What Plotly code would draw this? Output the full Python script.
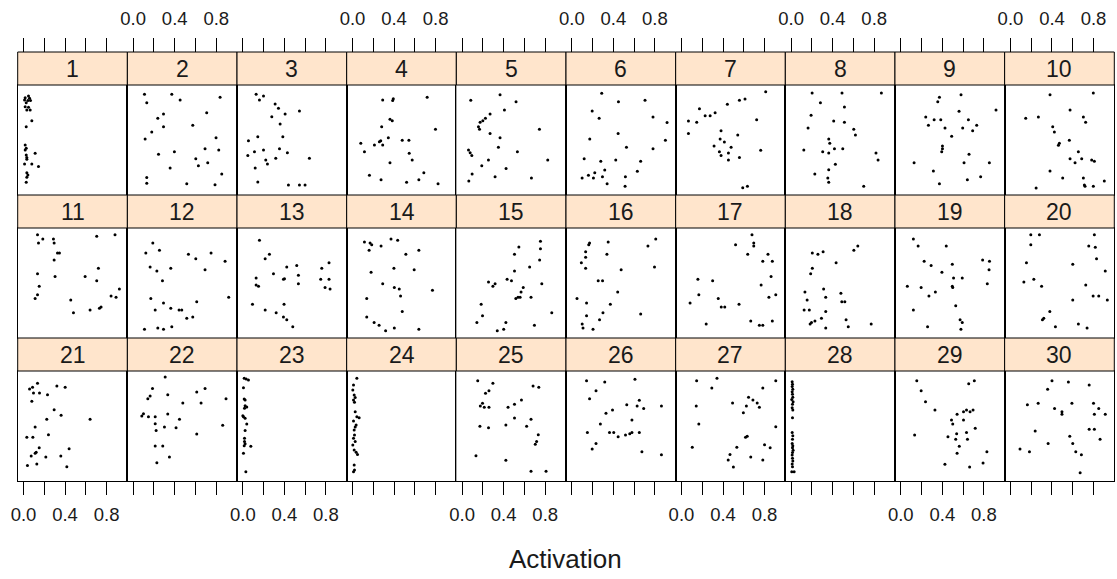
import plotly.graph_objects as go

# ---------------- data ----------------
panel_labels = [str(i) for i in range(1, 31)]
tick_vals = [0.0, 0.2, 0.4, 0.6, 0.8]
tick_text = ["0.0", "", "0.4", "", "0.8"]
x_title = "Activation"

act_01 = [0.048,0.016,0.058,0.010,0.042,0.067,0.026,0.016,0.048,0.032,0.064,0.080,0.026,0.016,0.026,0.016,0.112,0.026,0.032,0.032,0.010,0.080,0.144,0.032,0.042,0.032,0.026]
pos_01 = [0.900,0.885,0.879,0.864,0.858,0.858,0.839,0.803,0.797,0.773,0.773,0.676,0.621,0.455,0.424,0.409,0.379,0.364,0.342,0.324,0.282,0.282,0.258,0.203,0.182,0.161,0.115]
act_02 = [0.109,0.131,0.372,0.452,0.837,0.708,0.292,0.237,0.292,0.574,0.179,0.115,0.798,0.244,0.397,0.692,0.824,0.603,0.628,0.718,0.356,0.853,0.131,0.131,0.516,0.788]
pos_02 = [0.915,0.839,0.915,0.864,0.888,0.748,0.736,0.697,0.621,0.633,0.573,0.509,0.521,0.370,0.394,0.421,0.409,0.330,0.267,0.294,0.245,0.191,0.158,0.106,0.103,0.094]
act_03 = [0.128,0.160,0.199,0.311,0.343,0.407,0.545,0.279,0.359,0.385,0.144,0.054,0.353,0.429,0.199,0.112,0.048,0.221,0.317,0.237,0.641,0.119,0.144,0.439,0.545,0.599]
pos_03 = [0.915,0.864,0.900,0.827,0.788,0.736,0.764,0.712,0.645,0.530,0.530,0.494,0.421,0.385,0.409,0.394,0.358,0.318,0.333,0.282,0.333,0.245,0.118,0.091,0.091,0.091]
act_04 = [0.291,0.387,0.393,0.719,0.361,0.383,0.281,0.799,0.345,0.272,0.259,0.291,0.479,0.543,0.080,0.211,0.115,0.546,0.575,0.361,0.163,0.275,0.521,0.639,0.687,0.824]
pos_04 = [0.864,0.858,0.876,0.888,0.688,0.676,0.621,0.597,0.521,0.494,0.485,0.455,0.497,0.497,0.470,0.455,0.394,0.379,0.318,0.294,0.179,0.139,0.115,0.139,0.203,0.103]
act_05 = [0.083,0.365,0.519,0.407,0.269,0.224,0.199,0.173,0.157,0.167,0.744,0.269,0.365,0.349,0.532,0.061,0.077,0.093,0.253,0.824,0.189,0.423,0.096,0.064,0.317,0.667]
pos_05 = [0.861,0.912,0.848,0.773,0.736,0.697,0.676,0.661,0.621,0.597,0.597,0.558,0.521,0.433,0.394,0.409,0.385,0.358,0.318,0.318,0.267,0.242,0.191,0.127,0.167,0.155]
act_06 = [0.288,0.449,0.705,0.196,0.263,0.782,0.917,0.446,0.173,0.901,0.526,0.782,0.119,0.279,0.423,0.663,0.317,0.631,0.221,0.160,0.099,0.208,0.295,0.516,0.340,0.513]
pos_06 = [0.924,0.848,0.861,0.764,0.697,0.709,0.658,0.558,0.509,0.497,0.433,0.421,0.330,0.306,0.318,0.306,0.227,0.215,0.203,0.179,0.155,0.155,0.167,0.167,0.103,0.079]
act_07 = [0.811,0.558,0.612,0.442,0.173,0.324,0.276,0.228,0.067,0.147,0.724,0.067,0.381,0.542,0.372,0.413,0.314,0.478,0.365,0.452,0.763,0.381,0.558,0.452,0.590,0.635]
pos_07 = [0.939,0.861,0.873,0.824,0.785,0.748,0.721,0.721,0.673,0.661,0.685,0.558,0.585,0.545,0.509,0.482,0.445,0.433,0.394,0.382,0.406,0.358,0.342,0.318,0.067,0.079]
act_08 = [0.202,0.490,0.869,0.282,0.513,0.192,0.410,0.513,0.163,0.603,0.619,0.362,0.372,0.122,0.304,0.362,0.417,0.497,0.817,0.837,0.426,0.362,0.228,0.353,0.362,0.699]
pos_08 = [0.927,0.927,0.927,0.839,0.800,0.724,0.673,0.661,0.609,0.597,0.545,0.509,0.470,0.409,0.394,0.382,0.421,0.421,0.382,0.318,0.279,0.230,0.191,0.155,0.115,0.079]
act_09 = [0.580,0.372,0.356,0.917,0.561,0.240,0.321,0.385,0.266,0.651,0.731,0.426,0.596,0.692,0.490,0.401,0.401,0.394,0.657,0.128,0.609,0.853,0.314,0.769,0.641,0.372]
pos_09 = [0.912,0.888,0.848,0.773,0.761,0.709,0.685,0.685,0.633,0.685,0.633,0.609,0.609,0.585,0.533,0.445,0.421,0.394,0.370,0.294,0.294,0.294,0.218,0.167,0.139,0.103]
act_10 = [0.381,0.798,0.574,0.147,0.269,0.702,0.724,0.407,0.423,0.567,0.471,0.462,0.654,0.574,0.622,0.686,0.782,0.808,0.381,0.503,0.702,0.712,0.718,0.798,0.904,0.247]
pos_10 = [0.912,0.927,0.773,0.697,0.709,0.709,0.661,0.621,0.573,0.497,0.470,0.452,0.394,0.330,0.294,0.330,0.318,0.306,0.218,0.155,0.155,0.091,0.079,0.079,0.127,0.064]
act_11 = [0.135,0.186,0.144,0.288,0.295,0.327,0.346,0.295,0.705,0.881,0.135,0.304,0.593,0.721,0.705,0.151,0.135,0.112,0.455,0.923,0.843,0.891,0.481,0.641,0.731,0.747]
pos_11 = [0.939,0.900,0.864,0.900,0.864,0.773,0.773,0.709,0.924,0.939,0.585,0.558,0.558,0.633,0.521,0.470,0.394,0.358,0.345,0.445,0.382,0.370,0.230,0.255,0.270,0.282]
act_12 = [0.189,0.122,0.253,0.532,0.603,0.750,0.885,0.163,0.228,0.362,0.692,0.282,0.170,0.292,0.212,0.362,0.442,0.468,0.612,0.920,0.574,0.516,0.109,0.237,0.292,0.372]
pos_12 = [0.864,0.773,0.797,0.761,0.721,0.773,0.697,0.645,0.609,0.633,0.621,0.521,0.358,0.318,0.255,0.270,0.255,0.255,0.330,0.370,0.191,0.179,0.079,0.091,0.079,0.103]
act_13 = [0.160,0.256,0.215,0.423,0.519,0.760,0.830,0.295,0.391,0.401,0.535,0.128,0.128,0.151,0.535,0.750,0.830,0.792,0.840,0.093,0.215,0.321,0.397,0.391,0.423,0.481]
pos_13 = [0.888,0.761,0.721,0.645,0.658,0.633,0.685,0.585,0.533,0.539,0.570,0.545,0.482,0.470,0.494,0.533,0.533,0.458,0.445,0.306,0.255,0.230,0.306,0.191,0.167,0.103]
act_14 = [0.115,0.169,0.185,0.160,0.275,0.371,0.435,0.514,0.639,0.179,0.399,0.594,0.291,0.403,0.450,0.463,0.770,0.137,0.479,0.137,0.208,0.256,0.319,0.403,0.639]
pos_14 = [0.873,0.864,0.848,0.797,0.836,0.900,0.888,0.761,0.797,0.597,0.633,0.621,0.494,0.458,0.445,0.382,0.433,0.358,0.242,0.191,0.142,0.115,0.067,0.091,0.079]
act_15 = [0.754,0.546,0.754,0.504,0.746,0.650,0.504,0.254,0.317,0.296,0.433,0.475,0.588,0.567,0.767,0.538,0.517,0.558,0.663,0.183,0.196,0.142,0.421,0.338,0.400,0.696,0.863]
pos_15 = [0.879,0.827,0.812,0.761,0.709,0.645,0.609,0.509,0.494,0.470,0.533,0.521,0.458,0.418,0.494,0.370,0.358,0.370,0.370,0.306,0.203,0.142,0.142,0.067,0.079,0.115,0.230]
act_16 = [0.171,0.163,0.350,0.808,0.733,0.133,0.338,0.133,0.092,0.133,0.475,0.796,0.254,0.296,0.442,0.050,0.142,0.371,0.300,0.142,0.663,0.267,0.100,0.108,0.204]
pos_16 = [0.864,0.848,0.873,0.900,0.836,0.785,0.761,0.733,0.685,0.633,0.621,0.645,0.521,0.521,0.418,0.358,0.318,0.306,0.230,0.203,0.218,0.167,0.127,0.091,0.079]
act_17 = [0.679,0.696,0.696,0.521,0.638,0.833,0.783,0.875,0.863,0.767,0.158,0.300,0.167,0.083,0.354,0.383,0.417,0.554,0.842,0.908,0.238,0.667,0.750,0.783,0.875]
pos_17 = [0.939,0.864,0.836,0.848,0.761,0.761,0.697,0.697,0.558,0.482,0.533,0.521,0.394,0.318,0.358,0.282,0.282,0.306,0.370,0.394,0.127,0.155,0.115,0.115,0.155]
act_18 = [0.204,0.258,0.308,0.604,0.642,0.433,0.204,0.188,0.133,0.313,0.479,0.154,0.333,0.488,0.517,0.125,0.175,0.333,0.183,0.196,0.229,0.292,0.333,0.529,0.550,0.771]
pos_18 = [0.773,0.761,0.785,0.797,0.836,0.685,0.633,0.585,0.418,0.445,0.406,0.345,0.370,0.330,0.330,0.255,0.255,0.242,0.127,0.142,0.155,0.179,0.091,0.167,0.103,0.127]
act_19 = [0.121,0.167,0.438,0.225,0.292,0.496,0.396,0.508,0.592,0.788,0.854,0.850,0.833,0.063,0.196,0.333,0.271,0.496,0.500,0.121,0.529,0.258,0.571,0.592,0.579]
pos_19 = [0.900,0.836,0.836,0.697,0.658,0.670,0.597,0.545,0.545,0.709,0.697,0.621,0.494,0.470,0.458,0.418,0.382,0.470,0.458,0.255,0.294,0.103,0.167,0.142,0.079]
act_20 = [0.196,0.279,0.196,0.808,0.754,0.817,0.829,0.913,0.154,0.600,0.129,0.225,0.300,0.725,0.796,0.850,0.933,0.600,0.379,0.321,0.308,0.433,0.654,0.738]
pos_20 = [0.939,0.939,0.848,0.939,0.836,0.824,0.721,0.609,0.685,0.670,0.509,0.533,0.470,0.482,0.382,0.382,0.345,0.345,0.242,0.179,0.167,0.103,0.127,0.091]
act_21 = [0.135,0.087,0.058,0.096,0.154,0.231,0.321,0.401,0.080,0.295,0.362,0.224,0.641,0.112,0.240,0.032,0.090,0.151,0.122,0.112,0.074,0.215,0.359,0.439,0.038,0.128,0.417]
pos_21 = [0.888,0.852,0.836,0.800,0.800,0.785,0.864,0.852,0.724,0.648,0.597,0.561,0.561,0.491,0.421,0.397,0.397,0.303,0.261,0.252,0.227,0.218,0.227,0.294,0.142,0.155,0.130]
act_22 = [0.308,0.186,0.163,0.141,0.333,0.612,0.692,0.478,0.654,0.894,0.099,0.083,0.147,0.212,0.333,0.446,0.212,0.221,0.301,0.413,0.862,0.612,0.212,0.285,0.349,0.228]
pos_22 = [0.945,0.842,0.773,0.748,0.785,0.809,0.842,0.709,0.709,0.748,0.612,0.591,0.585,0.585,0.609,0.561,0.521,0.458,0.491,0.485,0.506,0.427,0.318,0.318,0.218,0.167]
act_23 = [0.013,0.032,0.054,0.006,0.013,0.022,0.022,0.038,0.016,0.000,0.006,0.022,0.038,0.022,0.016,0.016,0.022,0.013,0.077,0.006,0.029]
pos_23 = [0.933,0.927,0.918,0.848,0.745,0.736,0.685,0.673,0.661,0.594,0.585,0.570,0.518,0.458,0.388,0.358,0.339,0.321,0.315,0.252,0.085]
act_24 = [0.042,0.010,0.003,0.016,0.026,0.010,0.019,0.026,0.042,0.064,0.010,0.035,0.026,0.016,0.019,0.010,0.026,0.003,0.016,0.035,0.048,0.016,0.019,0.010]
pos_24 = [0.933,0.873,0.827,0.782,0.758,0.736,0.715,0.630,0.585,0.576,0.545,0.509,0.491,0.464,0.418,0.388,0.358,0.327,0.282,0.261,0.242,0.145,0.100,0.085]
act_25 = [0.150,0.296,0.258,0.225,0.683,0.738,0.571,0.196,0.175,0.213,0.258,0.442,0.504,0.504,0.663,0.421,0.171,0.254,0.621,0.733,0.717,0.704,0.133,0.421,0.663,0.808]
pos_25 = [0.912,0.888,0.821,0.797,0.864,0.852,0.736,0.706,0.682,0.670,0.670,0.670,0.697,0.573,0.561,0.509,0.497,0.485,0.497,0.421,0.358,0.333,0.230,0.188,0.088,0.088]
act_26 = [0.142,0.317,0.608,0.233,0.171,0.650,0.529,0.629,0.692,0.863,0.392,0.329,0.579,0.275,0.150,0.363,0.404,0.446,0.517,0.558,0.579,0.650,0.233,0.196,0.675,0.863]
pos_26 = [0.912,0.900,0.924,0.821,0.748,0.733,0.694,0.682,0.658,0.682,0.645,0.615,0.555,0.518,0.442,0.442,0.442,0.403,0.418,0.430,0.442,0.442,0.342,0.291,0.267,0.239]
act_27 = [0.146,0.342,0.292,0.908,0.783,0.646,0.688,0.729,0.750,0.492,0.625,0.596,0.142,0.167,0.908,0.617,0.633,0.104,0.533,0.800,0.854,0.467,0.450,0.667,0.783,0.500]
pos_27 = [0.912,0.933,0.845,0.912,0.845,0.761,0.736,0.709,0.670,0.709,0.682,0.621,0.682,0.518,0.494,0.397,0.406,0.306,0.306,0.330,0.303,0.242,0.191,0.218,0.191,0.127]
act_28 = [0.010,0.013,0.010,0.016,0.010,0.013,0.016,0.006,0.019,0.013,0.010,0.016,0.013,0.010,0.016,0.013,0.010,0.016,0.013,0.019,0.013,0.010,0.013,0.016,0.010,0.013,0.006,0.029]
pos_28 = [0.903,0.879,0.858,0.833,0.812,0.788,0.761,0.742,0.721,0.697,0.667,0.645,0.576,0.442,0.412,0.379,0.342,0.321,0.303,0.279,0.258,0.236,0.206,0.182,0.155,0.130,0.085,0.085]
act_29 = [0.154,0.196,0.238,0.329,0.654,0.708,0.633,0.604,0.667,0.696,0.542,0.488,0.604,0.717,0.500,0.133,0.454,0.538,0.633,0.529,0.642,0.563,0.542,0.829,0.425,0.663,0.792]
pos_29 = [0.912,0.821,0.721,0.645,0.885,0.912,0.645,0.630,0.630,0.645,0.606,0.555,0.555,0.479,0.518,0.418,0.403,0.430,0.442,0.379,0.379,0.315,0.252,0.267,0.152,0.127,0.164]
act_30 = [0.400,0.558,0.758,0.358,0.163,0.267,0.592,0.425,0.496,0.496,0.800,0.850,0.913,0.808,0.238,0.758,0.808,0.863,0.363,0.571,0.600,0.092,0.183,0.629,0.683,0.671]
pos_30 = [0.912,0.900,0.873,0.833,0.694,0.706,0.706,0.658,0.630,0.606,0.706,0.658,0.606,0.606,0.455,0.470,0.470,0.379,0.342,0.406,0.342,0.291,0.267,0.267,0.239,0.076]

activations = [act_01, act_02, act_03, act_04, act_05, act_06, act_07, act_08, act_09, act_10,
               act_11, act_12, act_13, act_14, act_15, act_16, act_17, act_18, act_19, act_20,
               act_21, act_22, act_23, act_24, act_25, act_26, act_27, act_28, act_29, act_30]
positions = [pos_01, pos_02, pos_03, pos_04, pos_05, pos_06, pos_07, pos_08, pos_09, pos_10,
             pos_11, pos_12, pos_13, pos_14, pos_15, pos_16, pos_17, pos_18, pos_19, pos_20,
             pos_21, pos_22, pos_23, pos_24, pos_25, pos_26, pos_27, pos_28, pos_29, pos_30]

# ---------------- layout geometry (pixels) ----------------
W, H = 1117, 579
NCOL, NROW = 10, 3
LEFT, RIGHT = 17.7, 1114.3
COLW = (RIGHT - LEFT) / NCOL
ROW_TOP0, ROW_H, STRIP_H = 52, 143, 33
X_RANGE = [-0.056, 1.0]
Y_RANGE = [0, 1]
FONT = "Liberation Sans, Arial, sans-serif"
STRIP_BG = "#FFE5CC"
TICK_FONT = dict(family=FONT, size=18.5, color="#1a1a1a")


def px(x):
    return x / W


def py(y):
    return 1 - y / H


def axname(prefix, n):
    return prefix if n == 1 else f"{prefix}{n}"


fig = go.Figure()
layout = {}
shapes = []
annotations = []

for k in range(NCOL * NROW):
    r, c = divmod(k, NCOL)
    n = k + 1
    x0 = LEFT + c * COLW
    x1 = x0 + COLW
    top = ROW_TOP0 + r * ROW_H
    sbot = top + STRIP_H
    bot = top + ROW_H

    xa = dict(domain=[px(x0), px(x1)], range=X_RANGE, anchor=axname("y", n),
              showgrid=False, zeroline=False, showline=True, mirror=True,
              linecolor="black", linewidth=1, ticks="", showticklabels=False,
              automargin=False)
    if r == NROW - 1:
        xa.update(ticks="outside", ticklen=13, tickwidth=1, tickcolor="black",
                  tickvals=tick_vals,
                  ticktext=tick_text if c % 2 == 0 else [""] * len(tick_vals),
                  showticklabels=True, side="bottom", ticklabelstandoff=4,
                  tickfont=TICK_FONT)
    ya = dict(domain=[py(bot), py(sbot)], range=Y_RANGE, anchor=axname("x", n),
              showgrid=False, zeroline=False, showline=True, mirror=True,
              linecolor="black", linewidth=1, ticks="", showticklabels=False,
              automargin=False)
    layout[axname("xaxis", n)] = xa
    layout[axname("yaxis", n)] = ya

    fig.add_trace(go.Scatter(x=activations[k], y=positions[k], mode="markers",
                             marker=dict(size=3, color="black"),
                             xaxis=axname("x", n), yaxis=axname("y", n),
                             showlegend=False, hoverinfo="skip"))

    shapes.append(dict(type="rect", xref="paper", yref="paper",
                       x0=px(x0), x1=px(x1), y0=py(sbot), y1=py(top),
                       fillcolor=STRIP_BG, line=dict(color="black", width=1),
                       layer="above"))
    annotations.append(dict(text=panel_labels[k], xref="paper", yref="paper",
                            x=px((x0 + x1) / 2), y=py((top + sbot) / 2 + 0.5),
                            xanchor="center", yanchor="middle", showarrow=False,
                            font=dict(family=FONT, size=23, color="#1a1a1a")))

# top tick axes (above the first row of strips)
for c in range(NCOL):
    n = NCOL * NROW + c + 1
    base = c + 1
    layout[axname("xaxis", n)] = dict(
        overlaying=axname("x", base), anchor="free", position=py(ROW_TOP0),
        side="top", range=X_RANGE, showgrid=False, zeroline=False, showline=False,
        ticks="outside", ticklen=14, tickwidth=1, tickcolor="black",
        tickvals=tick_vals,
        ticktext=tick_text if c % 2 == 1 else [""] * len(tick_vals),
        ticklabelstandoff=6, tickfont=TICK_FONT, automargin=False)
    fig.add_trace(go.Scatter(x=activations[c], y=positions[c], mode="markers",
                             marker=dict(size=3, color="black", opacity=0),
                             xaxis=axname("x", n), yaxis=axname("y", base),
                             showlegend=False, hoverinfo="skip"))

annotations.append(dict(text=x_title, xref="paper", yref="paper",
                        x=px(565.5), y=py(559), xanchor="center", yanchor="middle",
                        showarrow=False,
                        font=dict(family=FONT, size=26, color="#1a1a1a")))

fig.update_layout(**layout)
fig.update_layout(width=W, height=H, autosize=False,
                  margin=dict(l=0, r=0, t=0, b=0, autoexpand=False),
                  paper_bgcolor="white", plot_bgcolor="white",
                  shapes=shapes, annotations=annotations, showlegend=False)

fig.write_html("out.html", config={"displayModeBar": False},
               post_script="document.body.style.margin='0';document.body.style.padding='0';")
